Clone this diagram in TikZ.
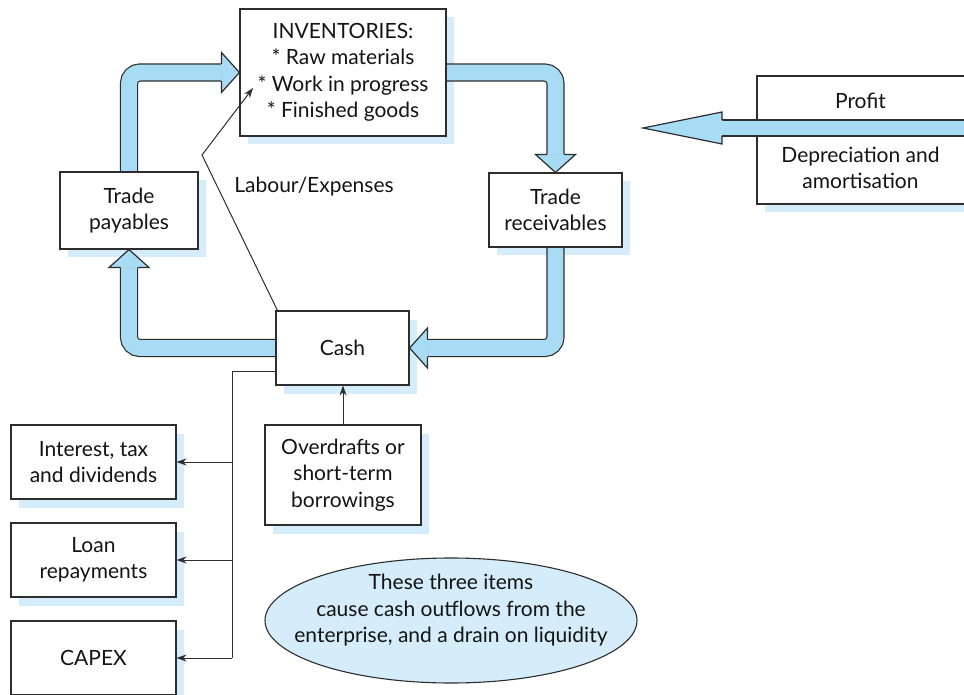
\documentclass[tikz,border=0pt]{standalone}
\usepackage{fontspec}
\setmainfont{Lato}
\usetikzlibrary{arrows.meta,calc,shadows,shapes.geometric}
\definecolor{flow}{RGB}{168,220,245}
\definecolor{shade}{RGB}{213,236,250}
\definecolor{edge}{RGB}{45,45,45}
\definecolor{ink}{RGB}{20,20,20}
% broad flow shaft: dark outline stroke with the blue body on top
\newcommand\flowshaft[1]{%
  \draw[line width=18.2pt, draw=edge, rounded corners=11pt] #1;
  \draw[line width=15.8pt, draw=flow, rounded corners=11pt] #1;}
\begin{document}
\begin{tikzpicture}[x=1pt,y=-1pt,
  every node/.style={font=\fontsize{21}{26.5}\selectfont, text=ink, align=center, inner sep=0pt},
  box/.style={draw=edge, line width=1.1pt, fill=white, rectangle,
    drop shadow={shadow xshift=7.5pt, shadow yshift=-8.5pt, fill=shade, opacity=1}},
  thinline/.style={draw=edge, line width=1pt},
  tipline/.style={thinline, -{Stealth[length=10pt,width=7pt]}},
  pics/flowhead/.style={code={
    \fill[flow] (0,0) -- (-18,20) -- (-18,-20) -- cycle;
    \draw[edge, line width=1.2pt, line join=miter] (-18,8.5) -- (-18,20) -- (0,0) -- (-18,-20) -- (-18,-8.5);
  }}]
\useasboundingbox (0,0) rectangle (964,695);

% boxes
\node[box, minimum width=206pt, minimum height=127pt] (inv) at (343,72.5)
  {INVENTORIES:\\* Raw materials\\* Work in progress\\* Finished goods};
\node[box, minimum width=138pt, minimum height=77pt] (tp) at (129,210.5) {Trade\\payables};
\node[box, minimum width=133pt, minimum height=74pt] (tr) at (555.5,210) {Trade\\receivables};
\node[box, minimum width=133pt, minimum height=74pt] (cash) at (342.5,348) {Cash};
\node[box, minimum width=156pt, minimum height=100pt] (od) at (343,475)
  {Overdrafts or\\short-term\\borrowings};
\node[box, minimum width=165pt, minimum height=74pt] (itd) at (93.5,462) {Interest, tax\\and dividends};
\node[box, minimum width=165pt, minimum height=74pt] (loan) at (93.5,560) {Loan\\repayments};
\node[box, minimum width=165pt, minimum height=74pt] (capex) at (93.5,658) {CAPEX};
\node[box, minimum width=215pt, minimum height=128pt] (pd) at (864.5,140) {};
\node (profit) at (860.5,101) {Profit};
\node (dep) at (860.5,168) {Depreciation and\\amortisation};

% note
\node[ellipse, draw=edge, line width=1.1pt, fill=shade, minimum width=372pt, minimum height=125pt] (note) at (451,620.5) {};
\node (notetext) at (451,610.5) {These three items\\cause cash outflows from the\\enterprise, and a drain on liquidity};

% working capital cycle
\flowshaft{($(tp.north)+(0,-0.6)$) |- ($(inv.west)+(-18,0)$)}
\pic at (inv.west) {flowhead};
\flowshaft{($(inv.east)+(0.6,0)$) -| ($(tr.north)+(0,-18)$)}
\pic[rotate=-90] at (tr.north) {flowhead};
\flowshaft{($(tr.south)+(0,0.6)$) |- ($(cash.east)+(18,0)$)}
\pic[rotate=180] at (cash.east) {flowhead};
\flowshaft{($(cash.west)+(-0.6,0)$) -| ($(tp.south)+(0,18)$)}
\pic[rotate=90] at (tp.south) {flowhead};

% profit inflow
\coordinate (ptip) at (643,128);
\draw[line width=17.2pt, draw=edge] (pd.east |- ptip) -- ($(ptip)+(79,0)$);
\draw[line width=14.8pt, draw=flow] (pd.east |- ptip) -- ($(ptip)+(79,0)$);
\fill[flow] (ptip) -- ++(79,-16) -- ++(0,32) -- cycle;
\draw[edge, line width=1.2pt, line join=miter] ($(ptip)+(79,-8)$) -- ++(0,-8) -- (ptip) -- ++(79,16) -- ++(0,-8);

% labour and expenses
\coordinate (lb) at (202,155);
\coordinate (wip) at (253,88);
\draw[tipline] ($(cash.north west)+(2,0)$) -- (lb) -- (wip);
\node (labour) at (314,187) {Labour/Expenses};

% borrowing into cash
\draw[tipline] (od.north) -- (od.north |- cash.south);

% cash outflows
\coordinate (j0) at (232,371);
\draw[thinline] (cash.west |- j0) -- (j0) -- (j0 |- capex.east);
\draw[tipline] (j0 |- itd.east) -- (itd.east);
\draw[tipline] (j0 |- loan.east) -- (loan.east);
\draw[tipline] (j0 |- capex.east) -- (capex.east);
\end{tikzpicture}
\end{document}
